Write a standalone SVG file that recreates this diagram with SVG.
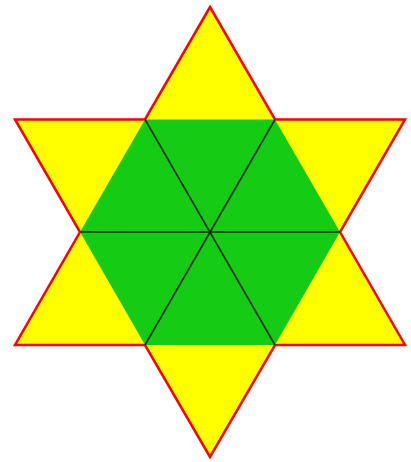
<svg xmlns="http://www.w3.org/2000/svg" width="411" height="462" viewBox="0 0 411 462">
<style>
.star{fill:#ffff00;stroke:#ff0000;stroke-width:2.5;stroke-linejoin:miter}
.hex{fill:#14cc14;stroke:none}
.ln{stroke:#0a2a0a;stroke-width:1.6;fill:none}
</style>
<rect width="411" height="462" fill="#ffffff"/>
<g id="star">
<polygon class="star" points="210,7 275,119.5 405,119.5 340,232 405,345 275,345 210,457 145,345 15,345 80,232 15,119.5 145,119.5"/>
</g>
<g id="hexagon">
<polygon class="hex" points="145,119.5 275,119.5 340,232 275,345 145,345 80,232"/>
</g>
<g id="connectors">
<line class="ln" x1="145" y1="119.5" x2="275" y2="345"/>
<line class="ln" x1="275" y1="119.5" x2="145" y2="345"/>
<line class="ln" x1="80" y1="232" x2="340" y2="232"/>
</g>
</svg>
